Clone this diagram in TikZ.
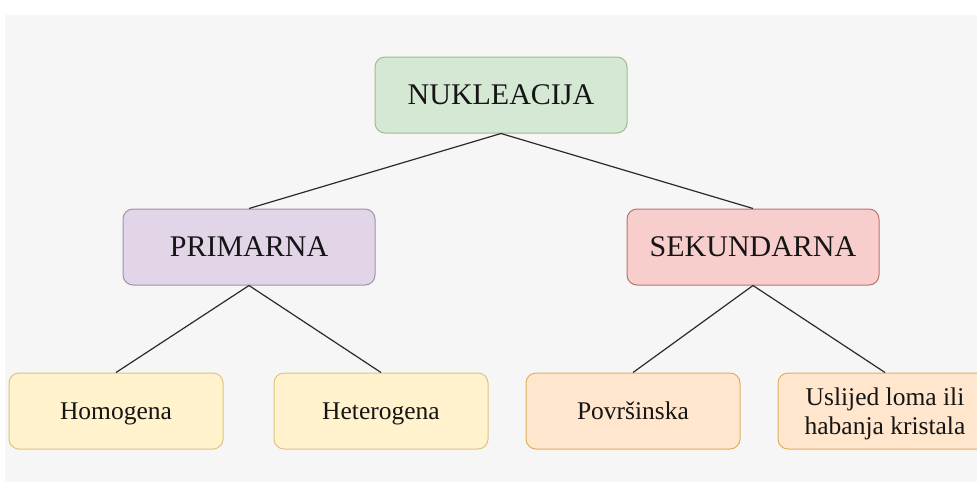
\documentclass[tikz,border=0pt]{standalone}
\usepackage{fontspec}
\setmainfont{Liberation Serif}
\definecolor{bg}{HTML}{F6F6F6}
\definecolor{gfill}{HTML}{D5E8D4}\definecolor{gdraw}{HTML}{9CBF8A}
\definecolor{pfill}{HTML}{E1D5E7}\definecolor{pdraw}{HTML}{A290AC}
\definecolor{rfill}{HTML}{F8CECC}\definecolor{rdraw}{HTML}{B57572}
\definecolor{yfill}{HTML}{FFF2CC}\definecolor{ydraw}{HTML}{DCC482}
\definecolor{ofill}{HTML}{FFE6CC}\definecolor{odraw}{HTML}{DDB060}
\definecolor{txt}{HTML}{151515}
\definecolor{edge}{HTML}{2A2A2A}
\tikzset{
  box/.style={rounded corners=10pt, line width=1pt, text=txt, align=center, inner sep=0pt},
  big/.style={box, minimum width=252pt, minimum height=76pt, font=\fontsize{30}{34}\selectfont},
  small/.style={box, minimum width=214pt, minimum height=76pt, text depth=0pt, font=\fontsize{25.5}{29}\selectfont},
  link/.style={draw=edge, line width=1.2pt}
}
\begin{document}
\begin{tikzpicture}[x=1pt,y=-1pt]
\useasboundingbox (0,0) rectangle (977,482);
\fill[white] (0,0) rectangle (977,482);
\fill[bg] (5,15) rectangle (977,482);
\node[big, fill=gfill, draw=gdraw] (nuk) at (501,95) {NUKLEACIJA};
\node[big, fill=pfill, draw=pdraw] (pri) at (249,247) {PRIMARNA};
\node[big, fill=rfill, draw=rdraw] (sek) at (753,247) {SEKUNDARNA};
\node[small, fill=yfill, draw=ydraw] (hom) at (116,411) {Homogena};
\node[small, fill=yfill, draw=ydraw] (het) at (381,411) {Heterogena};
\node[small, fill=ofill, draw=odraw] (pov) at (633,411) {Površinska};
\node[small, fill=ofill, draw=odraw] (usl) at (885,411) {Uslijed loma ili\\habanja kristala};
\draw[link] (nuk.south) -- (pri.north);
\draw[link] (nuk.south) -- (sek.north);
\draw[link] (pri.south) -- (hom.north);
\draw[link] (pri.south) -- (het.north);
\draw[link] (sek.south) -- (pov.north);
\draw[link] (sek.south) -- (usl.north);
\end{tikzpicture}
\end{document}
